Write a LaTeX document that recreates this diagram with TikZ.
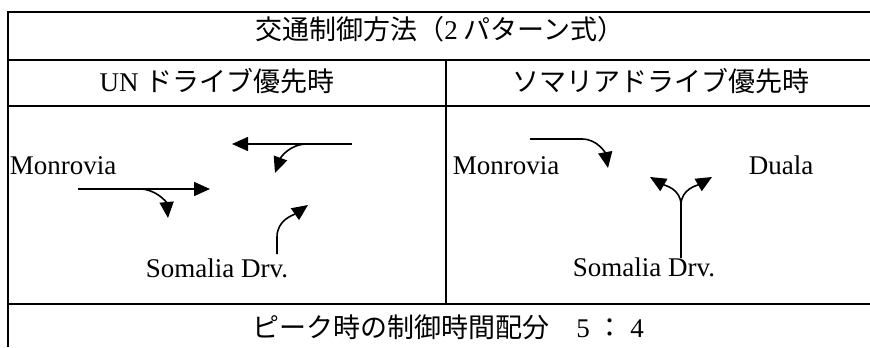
\documentclass[tikz,border=0pt]{standalone}
\usepackage{fontspec}
\setmainfont{Liberation Serif}
\newfontfamily\jp{Noto Sans CJK JP}
\usetikzlibrary{arrows.meta,positioning}
\tikzset{
    road/.style={
           draw, line width=0.8pt,
           -{Triangle[length=8pt,width=7pt]},
           },
    rule/.style={line width=1pt},
    lbl/.style={
           inner sep=0pt, anchor=base,
           font=\fontsize{13.5}{16}\selectfont,
           },
}

\begin{document}
\begin{tikzpicture}[x=0.5pt, y=-0.5pt]
\useasboundingbox (0,0) rectangle (870,347);
% table rules
\draw[rule] (8,347) -- (8,12) -- (870,12);
\draw[rule] (8,60) -- (870,60);
\draw[rule] (8,106) -- (870,106);
\draw[rule] (8,304) -- (870,304);
\draw[rule] (446,60) -- (446,304);
% headings
\node[lbl] (title) at (440,40) {\jp 交通制御方法（{\rmfamily 2} パターン式）};
\node[lbl] (unhead) at (217,92) {UN {\jp ドライブ優先時}};
\node[lbl] (smhead) at (661,92) {\jp ソマリアドライブ優先時};
\node[lbl] (ratio) at (448,337) {{\jp ピーク時の制御時間配分　}5 {\jp ：} 4};
% street names
\node[lbl] (monL) at (63,175) {Monrovia};
\node[lbl] (somL) at (217,277) {Somalia Drv.};
\node[lbl] (monR) at (506,175) {Monrovia};
\node[lbl] (duala) at (781,175) {Duala};
\node[lbl] (somR) at (644,276) {Somalia Drv.};
% UN drive flows
\coordinate (wbIn) at (352,144);
\coordinate (wbOut) at (232,144);
\coordinate (wbTurn) at (307,144);
\coordinate (wbLeft) at (275,173);
\coordinate (ebIn) at (78,189);
\coordinate (ebOut) at (210,189);
\coordinate (ebTurn) at (140,189);
\coordinate (ebRight) at (168,218);
\coordinate (sbIn) at (277,254);
\coordinate (sbBend) at (277,237);
\coordinate (sbRight) at (308,205);
\draw[road] (wbIn) -- (wbOut);
\draw[road] (wbTurn) to[out=180,in=70] (wbLeft);
\draw[road] (ebIn) -- (ebOut);
\draw[road] (ebTurn) to[out=0,in=95] (ebRight);
\draw[road] (sbIn) -- (sbBend) to[out=90,in=215] (sbRight);
% Somalia drive flows
\coordinate (mrIn) at (530,139);
\coordinate (mrBend) at (582,139);
\coordinate (mrRight) at (608,168);
\coordinate (sdIn) at (681,258);
\coordinate (sdFork) at (681,205);
\coordinate (sdLeft) at (650,177);
\coordinate (sdRight) at (712,177);
\draw[road] (mrIn) -- (mrBend) to[out=0,in=100] (mrRight);
\draw[road] (sdIn) -- (sdFork) to[out=90,in=-30] (sdLeft);
\draw[road] (sdFork) to[out=90,in=210] (sdRight);
\end{tikzpicture}
\end{document}
